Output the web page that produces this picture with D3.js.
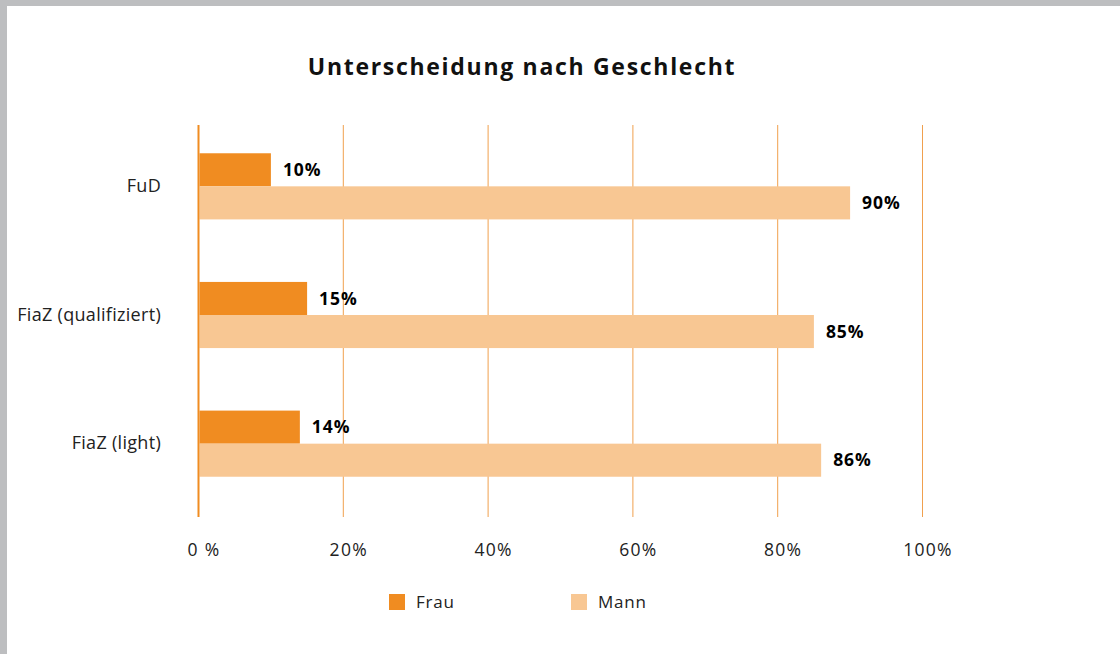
<!DOCTYPE html>
<html><head><meta charset="utf-8">
<script src="https://cdn.jsdelivr.net/npm/d3@7"></script>
<style>
html,body{margin:0;padding:0;background:#bdbec0;}
svg{display:block;}
text{font-family:"Open Sans","Noto Sans",sans-serif;}
</style></head>
<body>
<svg id="c" width="1120" height="654"></svg>
<script>
const categories = ["FuD", "FiaZ (qualifiziert)", "FiaZ (light)"];
const seriesNames = ["Frau", "Mann"];
const frau = [10, 15, 14];
const mann = [90, 85, 86];
const xTicks = [0, 20, 40, 60, 80, 100];
const xTickLabels = ["0 %", "20%", "40%", "60%", "80%", "100%"];
const colors = ["#f08c21", "#f8c793"];

const svg = d3.select("#c");
svg.append("rect").attr("x", 7).attr("y", 6).attr("width", 1113).attr("height", 648).attr("fill", "#fff");

const x = d3.scaleLinear().domain([0, 100]).range([198.5, 922.5]);
const y = d3.scaleBand().domain(categories).range([122, 508]).paddingInner(0.486).paddingOuter(0.243);
const ySub = d3.scaleBand().domain(seriesNames).range([0, y.bandwidth()]);
const plotTop = 125, plotBottom = 517;
const FONT = '"Open Sans","Noto Sans",sans-serif';

svg.append("text").attr("x", 522).attr("y", 75).attr("text-anchor", "middle")
  .attr("font-size", 23).attr("font-weight", "bold").attr("letter-spacing", 1.7).attr("fill", "#111")
  .text("Unterscheidung nach Geschlecht");

// gridlines
const grid = svg.append("g");
grid.selectAll("line").data(xTicks.filter(d => d > 0)).join("line")
  .attr("x1", d => x(d)).attr("x2", d => x(d)).attr("y1", plotTop).attr("y2", plotBottom)
  .attr("stroke", "#f0a04e").attr("stroke-width", 1);

// x axis labels via d3 axis
const xAxis = d3.axisBottom(x).tickValues(xTicks).tickFormat((d, i) => xTickLabels[i]).tickSize(0).tickPadding(0);
const gx = svg.append("g").attr("transform", `translate(5,${plotBottom + 27})`).call(xAxis);
gx.select(".domain").remove();
gx.selectAll("text").attr("font-size", 17.5).attr("fill", "#222").attr("letter-spacing", 1.3)
  .attr("font-family", FONT);

// y axis labels
const yAxis = d3.axisLeft(y).tickSize(0).tickPadding(0);
const gy = svg.append("g").attr("transform", `translate(161,0)`).call(yAxis);
gy.select(".domain").remove();
gy.selectAll("text").attr("font-size", 18).attr("fill", "#222").attr("letter-spacing", 0.3)
  .attr("font-family", FONT);

const rows = categories.map((c, i) => ({c, vals: [frau[i], mann[i]]}));
const groups = svg.append("g").selectAll("g").data(rows).join("g")
  .attr("transform", d => `translate(0,${y(d.c)})`);
groups.selectAll("rect").data(d => d.vals.map((v, j) => ({v, s: seriesNames[j], j}))).join("rect")
  .attr("x", x(0) + 1).attr("y", d => ySub(d.s)).attr("height", ySub.bandwidth())
  .attr("width", d => x(d.v) - x(0) - 1).attr("fill", d => colors[d.j]);
groups.selectAll("text").data(d => d.vals.map((v, j) => ({v, s: seriesNames[j], j}))).join("text")
  .attr("x", d => x(d.v) + 12).attr("y", d => ySub(d.s) + ySub.bandwidth() / 2).attr("dy", "0.36em")
  .attr("font-size", 17.5).attr("font-weight", "bold").attr("letter-spacing", 0.9).attr("fill", "#000")
  .text(d => d.v + "%");

// zero axis line
svg.append("line").attr("x1", x(0)).attr("x2", x(0)).attr("y1", plotTop).attr("y2", plotBottom)
  .attr("stroke", "#f08c21").attr("stroke-width", 2);

// legend
const legX = [389, 571];
const leg = svg.append("g").selectAll("g").data(seriesNames).join("g")
  .attr("transform", (d, i) => `translate(${legX[i]},594)`);
leg.append("rect").attr("width", 16).attr("height", 16).attr("fill", (d, i) => colors[i]);
leg.append("text").attr("x", 27).attr("y", 8).attr("dy", "0.36em").attr("font-size", 17)
  .attr("letter-spacing", 0.8).attr("fill", "#222").text(d => d);
</script>
</body></html>
